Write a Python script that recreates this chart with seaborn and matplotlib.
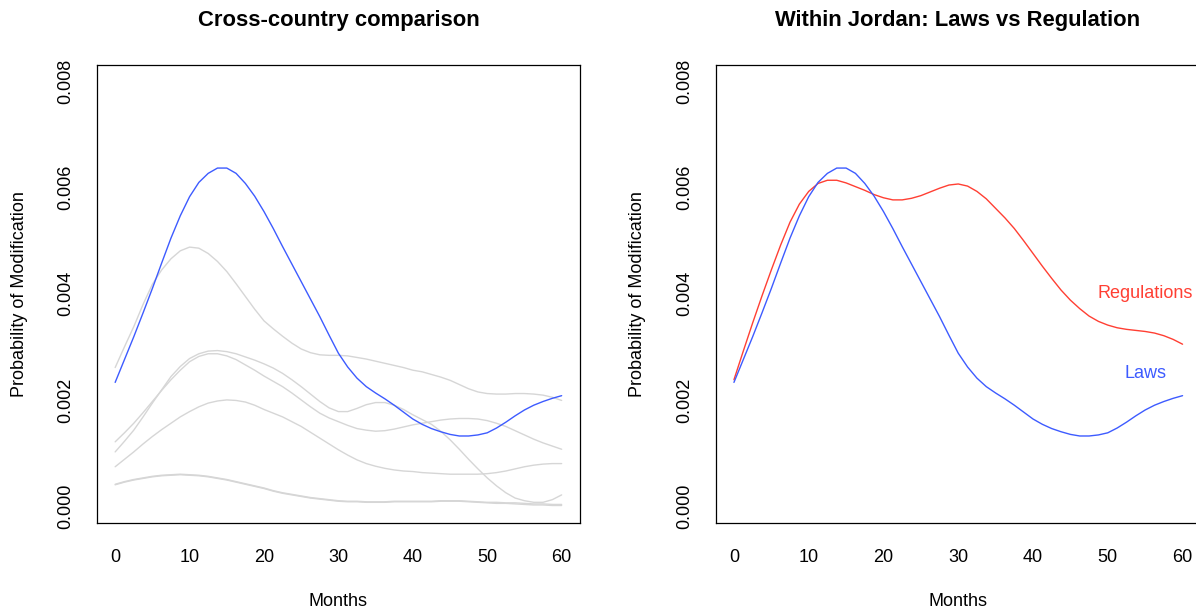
import numpy as np
import pandas as pd
import seaborn as sns
import matplotlib
matplotlib.use("Agg")
import matplotlib.pyplot as plt

# ---------------- data (x in months, y in 1/1000) ----------------
months = [0, 1.25, 2.5, 3.75, 5, 6.25, 7.5, 8.75, 10, 11.25, 12.5, 13.75, 15, 16.25,
          17.5, 18.75, 20, 21.25, 22.5, 23.75, 25, 26.25, 27.5, 28.75, 30, 31.25,
          32.5, 33.75, 35, 36.25, 37.5, 38.75, 40, 41.25, 42.5, 43.75, 45, 46.25,
          47.5, 48.75, 50, 51.25, 52.5, 53.75, 55, 56.25, 57.5, 58.75, 60]

jordan_laws = [2.33, 2.76, 3.19, 3.64, 4.10, 4.58, 5.05, 5.47, 5.83, 6.10, 6.27, 6.37, 6.37, 6.27,
               6.08, 5.84, 5.55, 5.23, 4.89, 4.56, 4.23, 3.90, 3.57, 3.22, 2.88, 2.62,
               2.41, 2.25, 2.13, 2.02, 1.90, 1.77, 1.64, 1.54, 1.46, 1.40, 1.35, 1.32,
               1.32, 1.34, 1.38, 1.47, 1.58, 1.70, 1.81, 1.90, 1.97, 2.03, 2.08]

jordan_regulations = [2.38, 2.92, 3.45, 3.96, 4.45, 4.92, 5.35, 5.69, 5.93, 6.08, 6.14, 6.14, 6.09, 6.02,
                      5.95, 5.87, 5.81, 5.77, 5.77, 5.80, 5.85, 5.92, 5.99, 6.05, 6.07, 6.03,
                      5.93, 5.79, 5.61, 5.43, 5.23, 5.00, 4.76, 4.52, 4.29, 4.07, 3.88, 3.72,
                      3.58, 3.48, 3.41, 3.36, 3.33, 3.31, 3.29, 3.26, 3.21, 3.14, 3.05]

other_country_1 = [2.61, 3.00, 3.38, 3.80, 4.18, 4.45, 4.66, 4.81, 4.88, 4.86, 4.76, 4.61, 4.42, 4.19,
                   3.95, 3.71, 3.49, 3.34, 3.20, 3.07, 2.96, 2.89, 2.85, 2.84, 2.84, 2.83,
                   2.80, 2.77, 2.73, 2.69, 2.65, 2.61, 2.56, 2.53, 2.48, 2.43, 2.37, 2.29,
                   2.21, 2.15, 2.12, 2.11, 2.11, 2.12, 2.12, 2.11, 2.09, 2.05, 1.99]

other_country_2 = [1.02, 1.22, 1.43, 1.68, 1.94, 2.19, 2.44, 2.63, 2.78, 2.87, 2.92, 2.93, 2.91, 2.87,
                   2.81, 2.75, 2.68, 2.60, 2.50, 2.38, 2.25, 2.11, 1.97, 1.85, 1.78, 1.78,
                   1.84, 1.91, 1.95, 1.95, 1.90, 1.82, 1.72, 1.63, 1.54, 1.41, 1.25, 1.07,
                   0.88, 0.70, 0.53, 0.38, 0.25, 0.15, 0.10, 0.07, 0.07, 0.12, 0.21]

other_country_3 = [1.21, 1.38, 1.56, 1.76, 1.97, 2.18, 2.38, 2.56, 2.72, 2.82, 2.87, 2.87, 2.83, 2.76,
                   2.66, 2.56, 2.45, 2.35, 2.25, 2.13, 2.00, 1.87, 1.75, 1.66, 1.59, 1.52,
                   1.46, 1.43, 1.41, 1.42, 1.45, 1.49, 1.53, 1.56, 1.59, 1.62, 1.64, 1.65,
                   1.65, 1.64, 1.61, 1.56, 1.50, 1.42, 1.34, 1.26, 1.19, 1.13, 1.07]

other_country_4 = [0.74, 0.88, 1.02, 1.17, 1.31, 1.44, 1.56, 1.68, 1.78, 1.87, 1.94, 1.98, 2.00, 1.99,
                   1.96, 1.90, 1.82, 1.75, 1.68, 1.59, 1.50, 1.39, 1.28, 1.17, 1.06, 0.96,
                   0.87, 0.80, 0.75, 0.71, 0.68, 0.66, 0.65, 0.63, 0.62, 0.61, 0.60, 0.60,
                   0.60, 0.60, 0.61, 0.63, 0.66, 0.70, 0.74, 0.77, 0.79, 0.80, 0.80]

other_country_5 = [0.40, 0.45, 0.49, 0.52, 0.55, 0.57, 0.58, 0.59, 0.58, 0.57, 0.55, 0.52, 0.49, 0.45,
                   0.41, 0.37, 0.33, 0.28, 0.24, 0.21, 0.18, 0.15, 0.13, 0.11, 0.09, 0.08,
                   0.08, 0.07, 0.07, 0.07, 0.08, 0.08, 0.08, 0.08, 0.08, 0.09, 0.09, 0.09,
                   0.08, 0.07, 0.06, 0.05, 0.05, 0.04, 0.03, 0.02, 0.02, 0.01, 0.01]

other_country_6 = [0.41, 0.46, 0.50, 0.53, 0.56, 0.58, 0.59, 0.60, 0.59, 0.58, 0.56, 0.53, 0.50, 0.46,
                   0.42, 0.38, 0.34, 0.29, 0.25, 0.22, 0.19, 0.16, 0.14, 0.12, 0.10, 0.09,
                   0.09, 0.08, 0.08, 0.08, 0.09, 0.09, 0.09, 0.09, 0.09, 0.10, 0.10, 0.10,
                   0.09, 0.08, 0.07, 0.07, 0.06, 0.06, 0.05, 0.04, 0.04, 0.03, 0.03]

x_ticks = [0, 10, 20, 30, 40, 50, 60]
y_ticks = [0.000, 0.002, 0.004, 0.006, 0.008]
y_tick_labels = ["0.000", "0.002", "0.004", "0.006", "0.008"]

titles = ["Cross-country comparison", "Within Jordan: Laws vs Regulation"]
x_label = "Months"
y_label = "Probability of Modification"
series_labels = ["Regulations", "Laws"]

BLUE = "#3d5bff"
RED = "#ff3f33"
GRAY = "#d6d6d6"

# ---------------- style ----------------
sns.set_style("white")
plt.rcParams["font.family"] = ["Liberation Sans", "DejaVu Sans"]
plt.rcParams["text.color"] = "black"
plt.rcParams["axes.labelcolor"] = "black"
plt.rcParams["xtick.color"] = "black"
plt.rcParams["ytick.color"] = "black"
plt.rcParams["axes.edgecolor"] = "black"
plt.rcParams["axes.linewidth"] = 0.9

W, H = 1196, 612
fig = plt.figure(figsize=(W / 100, H / 100), dpi=100)

def px_axes(left, top, right, bottom):
    return fig.add_axes([left / W, 1 - bottom / H, (right - left) / W, (bottom - top) / H])

ax1 = px_axes(97.3, 64.6, 579.5, 523.0)
ax2 = px_axes(716.0, 64.6, 1200.5, 523.0)

def to_prob(vals):
    return np.asarray(vals) / 1000.0

others = [other_country_1, other_country_2, other_country_3,
          other_country_4, other_country_5, other_country_6]
for s in others:
    sns.lineplot(x=months, y=to_prob(s), ax=ax1, color=GRAY, lw=1.0)
sns.lineplot(x=months, y=to_prob(jordan_laws), ax=ax1, color=BLUE, lw=1.0)

sns.lineplot(x=months, y=to_prob(jordan_regulations), ax=ax2, color=RED, lw=1.0)
sns.lineplot(x=months, y=to_prob(jordan_laws), ax=ax2, color=BLUE, lw=1.0)
ax2.text(55, 0.004, series_labels[0], color=RED, ha="center", va="center", fontsize=13)
ax2.text(55, 0.0025, series_labels[1], color=BLUE, ha="center", va="center", fontsize=13)

for ax, title in zip([ax1, ax2], titles):
    ax.set_xlim(-2.4, 62.4)
    ax.set_ylim(-0.00032, 0.00832)
    ax.set_xticks(x_ticks)
    ax.set_xticklabels([str(t) for t in x_ticks])
    ax.set_yticks(y_ticks)
    ax.set_yticklabels(y_tick_labels, rotation=90, va="center")
    ax.tick_params(axis="both", direction="out", length=7.7, width=0.9,
                   labelsize=13, colors="black")
    ax.tick_params(axis="x", pad=11)
    ax.tick_params(axis="y", pad=9)
    for sp in ax.spines.values():
        sp.set_visible(True)
        sp.set_color("black")
        sp.set_linewidth(0.9)
    ax.set_xlabel(x_label, fontsize=13, va="center")
    ax.xaxis.set_label_coords(0.5, -0.172)
    ax.set_ylabel(y_label, fontsize=13, va="center")
    ax.yaxis.set_label_coords(-0.162, 0.5)
    ax.grid(False)

# titles centred over each plot box, about 20 px from the top of the figure
ax1.text(0.5, 1.097, titles[0], transform=ax1.transAxes, ha="center", va="center",
         fontsize=15.8, fontweight="bold", color="black")
ax2.text((957.5 - 716.0) / (1200.5 - 716.0), 1.097, titles[1], transform=ax2.transAxes,
         ha="center", va="center", fontsize=15.8, fontweight="bold", color="black")

fig.savefig("out.png", dpi=100)
